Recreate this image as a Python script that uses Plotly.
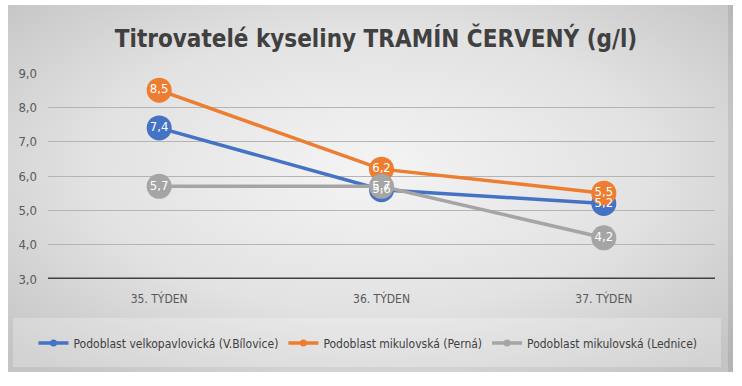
import base64
import plotly.graph_objects as go

weeks = ["35. TÝDEN", "36. TÝDEN", "37. TÝDEN"]
s_names = ["Podoblast velkopavlovická (V.Bílovice)",
           "Podoblast mikulovská (Perná)",
           "Podoblast mikulovská (Lednice)"]
vals_bilovice = [7.4, 5.6, 5.2]
vals_perna = [8.5, 6.2, 5.5]
vals_lednice = [5.7, 5.7, 4.2]
title_text = "Titrovatelé kyseliny TRAMÍN ČERVENÝ (g/l)"

series = [vals_bilovice, vals_perna, vals_lednice]
colors = ["#4472C4", "#ED7D31", "#A5A5A5"]

W, H = 742, 386
L, R, T, B = 48, 27, 73, 107
pw, ph = W - L - R, H - T - B

FONT = "Liberation Sans Narrow, DejaVu Sans Condensed, Open Sans, sans-serif"

fig = go.Figure()
for name, ys, c in zip(s_names, series, colors):
    fig.add_trace(go.Scatter(x=weeks, y=ys, mode="lines+markers",
                             line=dict(color=c, width=3.5),
                             marker=dict(size=25, color=c),
                             showlegend=False, hoverinfo="skip"))
for name, ys, c in zip(s_names, series, colors):
    fig.add_trace(go.Scatter(x=weeks, y=ys, mode="text",
                             text=[f"{v:.1f}".replace(".", ",") for v in ys],
                             textposition="middle center",
                             textfont=dict(color="white", size=13, family=FONT),
                             showlegend=False, hoverinfo="skip"))
for name, ys, c in zip(s_names, series, colors):
    fig.add_trace(go.Scatter(x=[None], y=[None], mode="lines+markers", name=name,
                             line=dict(color=c, width=3.5),
                             marker=dict(size=7, color=c)))

svg = f'''<svg xmlns="http://www.w3.org/2000/svg" width="725" height="367">
<defs><radialGradient id="g" cx="50%" cy="45%" r="70%">
<stop offset="0" stop-color="#f4f4f4"/><stop offset="0.55" stop-color="#e2e2e2"/>
<stop offset="1" stop-color="#c4c4c4"/></radialGradient></defs>
<rect width="725" height="367" fill="url(#g)"/></svg>'''
src = "data:image/svg+xml;base64," + base64.b64encode(svg.encode()).decode()

def px(x):
    return (x - L) / pw

def py(y):
    return (H - B - y) / ph

fig.add_layout_image(dict(source=src, xref="paper", yref="paper",
                          x=px(8), y=py(5), sizex=(733 - 8) / pw, sizey=(372 - 5) / ph,
                          xanchor="left", yanchor="top", sizing="stretch", layer="below"))
fig.add_shape(type="rect", xref="paper", yref="paper",
              x0=px(13), x1=px(721), y0=py(367), y1=py(318),
              fillcolor="rgba(255,255,255,0.25)", line=dict(width=0), layer="below")
fig.add_shape(type="rect", xref="paper", yref="paper",
              x0=px(728), x1=px(733), y0=py(372), y1=py(5),
              fillcolor="rgba(0,0,0,0.08)", line=dict(width=0), layer="below")

fig.update_layout(
    width=W, height=H, autosize=False,
    margin=dict(l=L, r=R, t=T, b=B, autoexpand=False),
    paper_bgcolor="white", plot_bgcolor="rgba(0,0,0,0)",
    separators=", ",
    title=dict(text=title_text, x=px(376), xref="paper", xanchor="center",
               y=1 - 39 / H, yanchor="middle",
               font=dict(family=FONT, size=24, color="#404040", weight="bold")),
    showlegend=True,
    legend=dict(orientation="h", x=px(368), xanchor="center",
                y=py(343), yanchor="middle",
                bgcolor="rgba(0,0,0,0)", font=dict(family=FONT, size=12, color="#404040"),
                itemwidth=30, tracegroupgap=0),
    xaxis=dict(range=[-0.5, 2.5], showgrid=False, zeroline=False, showline=False, ticks="",
               tickfont=dict(family=FONT, size=12, color="#595959"),
               ticklabelstandoff=11, fixedrange=True, automargin=False),
    yaxis=dict(range=[3, 9], dtick=1, tickformat=".1f", showgrid=True,
               gridcolor="#b4b4b4", gridwidth=1, zeroline=False, showline=False,
               ticks="", tickfont=dict(family=FONT, size=13, color="#595959"),
               ticklabelstandoff=10, fixedrange=True, automargin=False),
)
fig.add_shape(type="line", xref="paper", yref="y", x0=0, x1=1, y0=3, y1=3,
              line=dict(color="#404040", width=3))

fig.write_html("out.html", config={"displayModeBar": False, "responsive": False},
               post_script="document.body.style.margin='0';")
